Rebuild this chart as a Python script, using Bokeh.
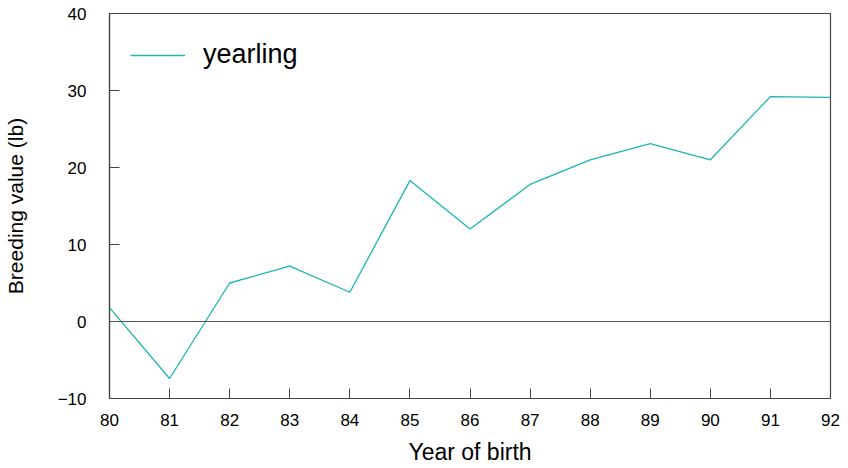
from bokeh.plotting import figure
from bokeh.models import Span, Legend, LegendItem, FixedTicker
from bokeh.embed import file_html
from bokeh.resources import INLINE

years = [80, 81, 82, 83, 84, 85, 86, 87, 88, 89, 90, 91, 92]
yearling = [1.8, -7.4, 5.0, 7.2, 3.8, 18.3, 12.0, 17.8, 21.0, 23.1, 21.0, 29.2, 29.1]
x_ticks = list(range(80, 93))
y_ticks = [-10, 0, 10, 20, 30, 40]

FONT = "Liberation Sans"
AX = "#444444"

p = figure(width=848, height=468, output_backend="svg", toolbar_location=None,
           x_range=(80, 92), y_range=(-10, 40),
           min_border_left=109, min_border_right=18, min_border_top=13, min_border_bottom=70)
p.grid.visible = False
p.outline_line_color = AX
p.outline_line_width = 1.2
p.background_fill_color = "white"
p.border_fill_color = "white"

for ax in (p.xaxis[0], p.yaxis[0]):
    ax.axis_line_color = AX
    ax.axis_line_width = 1.2
    ax.major_tick_line_color = AX
    ax.major_tick_in = 10
    ax.major_tick_out = 0
    ax.minor_tick_line_color = None
    ax.major_label_text_font = FONT
    ax.major_label_text_font_size = "17px"
    ax.major_label_text_color = "black"
    ax.axis_label_text_font = FONT
    ax.axis_label_text_font_style = "normal"
    ax.axis_label_text_color = "black"

p.xaxis.ticker = FixedTicker(ticks=x_ticks)
p.yaxis.ticker = FixedTicker(ticks=y_ticks)
p.xaxis.axis_label = "Year of birth"
p.yaxis.axis_label = "Breeding value (lb)"
p.xaxis.axis_label_text_font_size = "23px"
p.yaxis.axis_label_text_font_size = "21px"
p.xaxis.major_label_standoff = 15
p.yaxis.major_label_standoff = 23
p.xaxis.axis_label_standoff = 10
p.yaxis.axis_label_standoff = 28

p.add_layout(Span(location=0, dimension="width", line_color="#555555", line_width=1.2))

r = p.line(years, yearling, line_color="#1db5b5", line_width=1.3)

legend = Legend(items=[LegendItem(label="yearling", renderers=[r])],
                location=(21, 328), border_line_color=None, background_fill_alpha=0,
                padding=0, margin=0, glyph_width=55, glyph_height=30, label_height=30,
                label_standoff=18, label_text_font=FONT, label_text_font_size="27px",
                label_text_color="black")
p.add_layout(legend)

open("out.html", "w").write(file_html(p, INLINE))
